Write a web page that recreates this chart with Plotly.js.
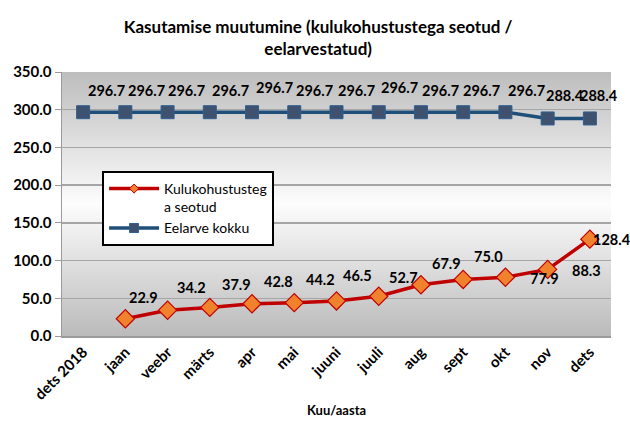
<!DOCTYPE html>
<html>
<head>
<meta charset="utf-8">
<script src="https://cdn.plot.ly/plotly-3.0.1.min.js"></script>
<style>
html,body{margin:0;padding:0;background:#fff;}
#chart{width:630px;height:421px;}
</style>
</head>
<body>
<div id="chart"></div>
<script>
// ---- data ----
var categories = ["dets 2018","jaan","veebr","märts","apr","mai","juuni","juuli","aug","sept","okt","nov","dets"];
var spentCategories = ["jaan","veebr","märts","apr","mai","juuni","juuli","aug","sept","okt","nov","dets"];
var spentValues = [22.9, 34.2, 37.9, 42.8, 44.2, 46.5, 52.7, 67.9, 75.0, 77.9, 88.3, 128.4];
var budgetValues = [296.7, 296.7, 296.7, 296.7, 296.7, 296.7, 296.7, 296.7, 296.7, 296.7, 296.7, 288.4, 288.4];
var yTicks = [0, 50, 100, 150, 200, 250, 300, 350];
var seriesNames = ["Kulukohustusteg<br>a seotud", "Eelarve kokku"];

// ---- label offsets (style, px) ----
var spentShift = [[18,21],[24,23],[27,23],[26,22],[26,23],[21,25],[25,19],[26,21],[25,23],[39,-1],[39,-1],[22,0]];
var budgetShift = [[23,22],[21,22],[19,22],[21,22],[22,25],[20,22],[20,22],[21,25],[20,22],[18,22],[21,22],[17,23],[9,23]];

var FONT = "Lato, 'Open Sans', sans-serif";
var BOLD = {family: FONT, size: 14.5, color: "#000", weight: "bold"};

var bgSvg = '<svg xmlns="http://www.w3.org/2000/svg" width="100" height="100" preserveAspectRatio="none">' +
  '<defs><linearGradient id="g" x1="0" y1="0" x2="0" y2="1">' +
  '<stop offset="0" stop-color="#bdbdbd"/><stop offset="0.5" stop-color="#fdfdfd"/><stop offset="1" stop-color="#bbbbbb"/>' +
  '</linearGradient></defs><rect width="100" height="100" fill="url(#g)"/></svg>';
var bgSrc = "data:image/svg+xml;base64," + btoa(bgSvg);

var spentLine = {color: "#c00000", width: 3.5};
var budgetLine = {color: "#1f4e79", width: 3.5};

var traceSpent = {
  x: spentCategories, y: spentValues, type: "scatter", mode: "lines+markers",
  name: seriesNames[0], showlegend: false,
  line: spentLine,
  marker: {symbol: "diamond", size: 14, color: "#f0822e", line: {color: "#c00000", width: 1.2}},
  cliponaxis: false
};
var traceBudget = {
  x: categories, y: budgetValues, type: "scatter", mode: "lines+markers",
  name: seriesNames[1], showlegend: false,
  line: budgetLine,
  marker: {symbol: "square", size: 13, color: "#3e5270", line: {color: "#2f5f8f", width: 1}},
  cliponaxis: false
};
// legend entries (smaller legend markers, as in the reference)
var legendSpent = {x: [null], y: [null], type: "scatter", mode: "lines+markers", name: seriesNames[0],
  line: spentLine, marker: {symbol: "diamond", size: 7, color: "#f0822e", line: {color: "#c00000", width: 1}}};
var legendBudget = {x: [null], y: [null], type: "scatter", mode: "lines+markers", name: seriesNames[1],
  line: budgetLine, marker: {symbol: "square", size: 9, color: "#3e5270", line: {color: "#2f5f8f", width: 1}}};

var annotations = [];
spentValues.forEach(function(v, i){
  annotations.push({x: spentCategories[i], y: v, xref: "x", yref: "y", text: v.toFixed(1),
    showarrow: false, xshift: spentShift[i][0], yshift: spentShift[i][1], font: BOLD});
});
budgetValues.forEach(function(v, i){
  annotations.push({x: categories[i], y: v, xref: "x", yref: "y", text: v.toFixed(1),
    showarrow: false, xshift: budgetShift[i][0], yshift: budgetShift[i][1], font: BOLD});
});
annotations.push({x: 0.5, y: -0.28, xref: "paper", yref: "paper", text: "Kuu/aasta", showarrow: false,
  xanchor: "center", yanchor: "middle", font: {family: FONT, size: 13, color: "#000", weight: "bold"}});

var layout = {
  width: 630, height: 421,
  margin: {l: 62, r: 19, t: 72, b: 85},
  paper_bgcolor: "#ffffff",
  plot_bgcolor: "rgba(0,0,0,0)",
  font: {family: FONT, color: "#000"},
  title: {text: "Kasutamise muutumine (kulukohustustega seotud /<br>eelarvestatud)",
    x: 0.505, xanchor: "center", xref: "container", yref: "container", y: 0.922, yanchor: "middle",
    font: {family: FONT, size: 17, color: "#000", weight: "bold"}},
  images: [{source: bgSrc, xref: "paper", yref: "paper", x: 0, y: 1, sizex: 1, sizey: 1,
    xanchor: "left", yanchor: "top", sizing: "stretch", layer: "below"}],
  xaxis: {type: "category", categoryorder: "array", categoryarray: categories,
    range: [-0.5, 12.5], tickangle: -45, showgrid: false, zeroline: false,
    showline: true, linecolor: "#9a9a9a", linewidth: 1.5, ticks: "",
    tickfont: {family: FONT, size: 15, color: "#000", weight: "bold"}},
  yaxis: {range: [0, 350], tickvals: yTicks, ticktext: yTicks.map(function(t){return t.toFixed(1);}),
    showgrid: true, gridcolor: "#a6a6a6", gridwidth: 1.5, zeroline: false,
    showline: true, linecolor: "#9a9a9a", linewidth: 1.5, ticks: "outside", ticklen: 6, tickcolor: "#9a9a9a",
    tickfont: {family: FONT, size: 15, color: "#000", weight: "bold"}},
  showlegend: true,
  legend: {x: 0.073, y: 0.625, xanchor: "left", yanchor: "top", bgcolor: "#ffffff",
    bordercolor: "#000", borderwidth: 2, valign: "top", tracegroupgap: 0, itemwidth: 50,
    font: {family: FONT, size: 14, color: "#000"}},
  annotations: annotations
};

Plotly.newPlot("chart", [traceSpent, traceBudget, legendSpent, legendBudget], layout, {displayModeBar: false, staticPlot: true});
</script>
</body>
</html>
